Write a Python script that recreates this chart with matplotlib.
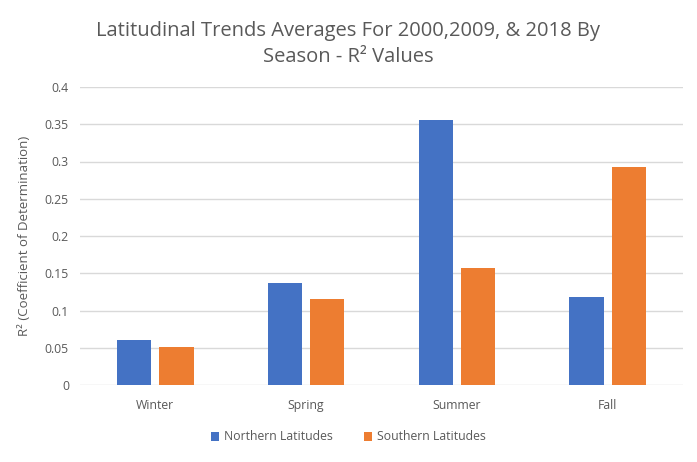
import matplotlib.pyplot as plt
import numpy as np

seasons = ["Winter", "Spring", "Summer", "Fall"]
northern = [0.0604, 0.1369, 0.3557, 0.1181]
southern = [0.0510, 0.1154, 0.1571, 0.2926]
yticks = [0, 0.05, 0.1, 0.15, 0.2, 0.25, 0.3, 0.35, 0.4]

plt.rcParams['font.family'] = ['Open Sans', 'DejaVu Sans']
grey = "#595959"

fig = plt.figure(figsize=(6.97, 4.62), dpi=100)
ax = fig.add_axes([80 / 697, 77 / 462, 603 / 697, 298 / 462])

x = np.arange(len(seasons))
w = 0.227
ax.bar(x - 0.14, northern, w, color="#4472C4", label="Northern Latitudes", zorder=3)
ax.bar(x + 0.14, southern, w, color="#ED7D31", label="Southern Latitudes", zorder=3)

ax.set_xlim(-0.5, len(seasons) - 0.5)
ax.set_ylim(0, 0.4)
ax.set_xticks(x)
ax.set_xticklabels(seasons)
ax.set_yticks(yticks)
ax.set_yticklabels([f"{v:g}" for v in yticks])
ax.tick_params(length=0, colors=grey, labelsize=8.8)
ax.tick_params(axis="x", pad=10)
ax.tick_params(axis="y", pad=8)
ax.grid(axis="y", color="#d9d9d9", linewidth=1, zorder=0)
for s in ax.spines.values():
    s.set_visible(False)

ax.set_ylabel("R² (Coefficient of Determination)", color=grey, fontsize=9.5, labelpad=10)

fig.text(0.5, 1 - 44 / 462, "Latitudinal Trends Averages For 2000,2009, & 2018 By\nSeason - R² Values",
         ha="center", va="center", fontsize=14.5, color=grey, linespacing=1.4)

fig.legend(loc="center", bbox_to_anchor=(0.5, (462 - 437) / 462), ncol=2,
           frameon=False, fontsize=8.8, labelcolor=grey, handlelength=0.7, handleheight=0.7,
           columnspacing=2.5, handletextpad=0.4)

fig.savefig("out.png", dpi=100)
